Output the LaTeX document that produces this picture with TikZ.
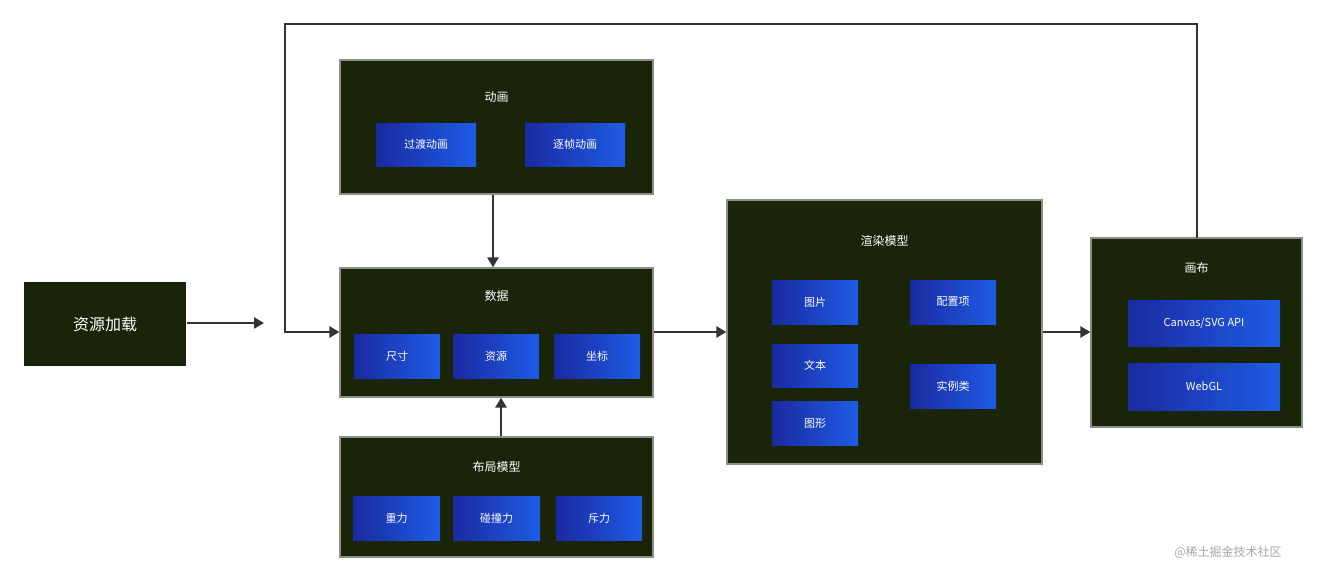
\documentclass[tikz,border=0pt]{standalone}
\usepackage{fontspec}
\setmainfont{Noto Sans CJK SC}
\usetikzlibrary{arrows.meta}
\definecolor{dk}{HTML}{1A2409}
\definecolor{bd}{HTML}{8A8F8A}
\definecolor{bl}{HTML}{1A2AA0}
\definecolor{br}{HTML}{1E5CE6}
\definecolor{ln}{HTML}{333333}
\begin{document}
\begin{tikzpicture}[x=1pt,y=-1pt,
 panel/.style={draw=bd,line width=1.2pt,fill=dk},
 btn/.style={left color=bl,right color=br,draw=none},
 tt/.style={text=white,font=\fontsize{12}{14}\selectfont},
 bt/.style={text=white,font=\fontsize{11}{13}\selectfont},
 ar/.style={draw=ln,line width=2.8pt,-{Triangle[length=10pt,width=11pt]}}]
\useasboundingbox[fill=white] (0,0) rectangle (1326,582);
% load
\node[panel,draw=none,minimum width=162pt,minimum height=84pt,text=white,font=\fontsize{16}{18}\selectfont] (load) at (105,324) {资源加载};
\coordinate (le) at (264,323);
% anim
\node[panel,minimum width=313pt,minimum height=134pt] (anim) at (496.5,127) {};
\node[tt] at (496.5,97) {动画};
\node[btn,minimum width=100pt,minimum height=43pt,bt] (a1) at (426,144.5) {过渡动画};
\node[btn,minimum width=100pt,minimum height=43pt,bt] (a2) at (575,144.5) {逐帧动画};
% data
\node[panel,minimum width=313pt,minimum height=129pt] (data) at (496.5,332.5) {};
\node[tt] at (496.5,296) {数据};
\node[btn,minimum width=86pt,minimum height=44pt,bt] at (397,356) {尺寸};
\node[btn,minimum width=86pt,minimum height=44pt,bt] at (496,356) {资源};
\node[btn,minimum width=86pt,minimum height=44pt,bt] at (597,356) {坐标};
% layout
\node[panel,minimum width=313pt,minimum height=120pt] (lay) at (496.5,497) {};
\node[tt] at (496.5,467) {布局模型};
\node[btn,minimum width=87pt,minimum height=44pt,bt] at (396.5,518) {重力};
\node[btn,minimum width=87pt,minimum height=44pt,bt] at (496.5,518) {碰撞力};
\node[btn,minimum width=86pt,minimum height=44pt,bt] at (599,518) {斥力};
% render
\node[panel,minimum width=315pt,minimum height=264pt] (ren) at (884.5,332) {};
\node[tt] at (884.5,241) {渲染模型};
\node[btn,minimum width=86pt,minimum height=44pt,bt] at (815,302) {图片};
\node[btn,minimum width=86pt,minimum height=43pt,bt] at (815,365.5) {文本};
\node[btn,minimum width=86pt,minimum height=44pt,bt] at (815,423) {图形};
\node[btn,minimum width=86pt,minimum height=44pt,bt] at (953,302) {配置项};
\node[btn,minimum width=86pt,minimum height=44pt,bt] at (953,386) {实例类};
% canvas
\node[panel,minimum width=211pt,minimum height=189pt] (cv) at (1196.5,332.5) {};
\node[tt] at (1196.5,268) {画布};
\node[btn,minimum width=152pt,minimum height=46pt,bt] at (1204,323) {Canvas/SVG API};
\node[btn,minimum width=152pt,minimum height=47pt,bt] at (1204,386.5) {WebGL};
% arrows
\draw[ar] (load.east |- 0,323) -- (le);
\draw[ar] (1197,238) -- (1197,24) -- (285,24) -- (285,332) -- (data.west |- 0,332);
\draw[ar] (anim.south -| 493,0) -- (data.north -| 493,0);
\draw[ar] (lay.north -| 501,0) -- (data.south -| 501,0);
\draw[ar] (data.east |- 0,332) -- (ren.west |- 0,332);
\draw[ar] (ren.east |- 0,332) -- (cv.west |- 0,332);
\node[text=gray!70,font=\fontsize{12}{14}\selectfont] (wm) at (1228,552) {@稀土掘金技术社区};
\end{tikzpicture}
\end{document}
